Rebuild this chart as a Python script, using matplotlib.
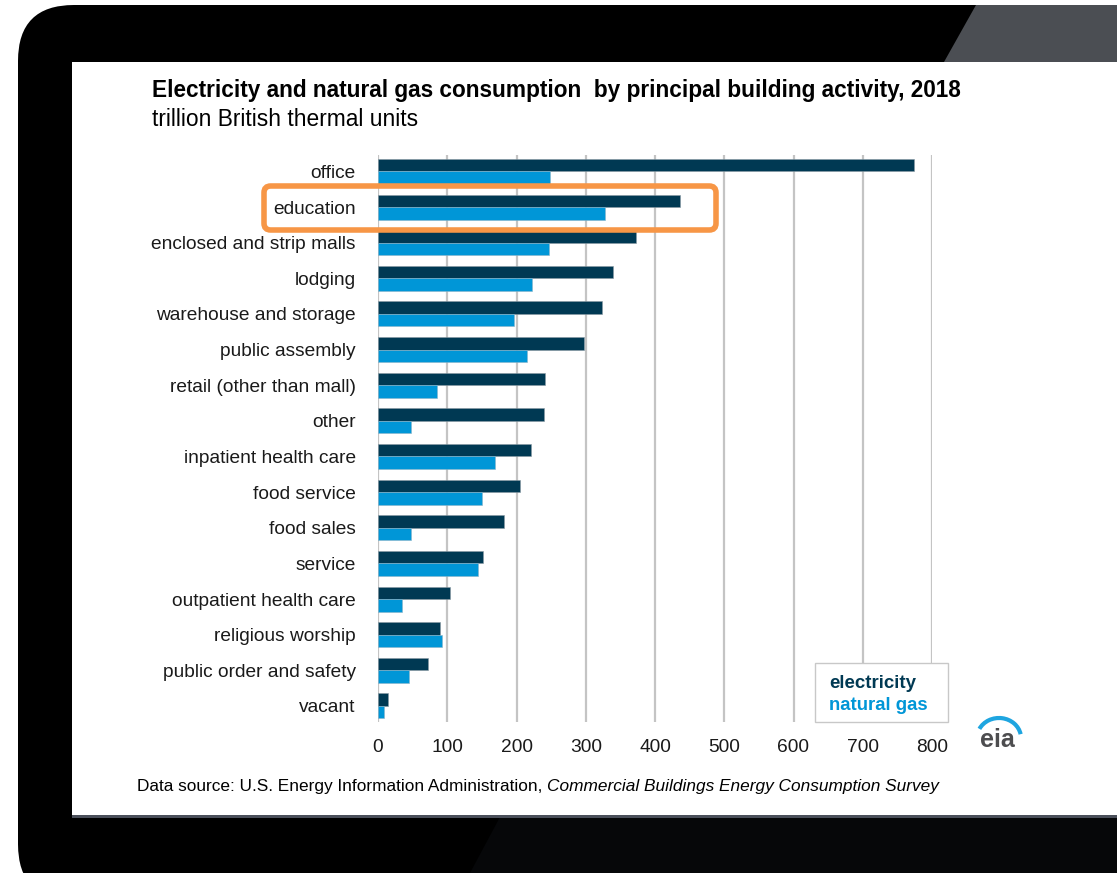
import numpy as np
import matplotlib
matplotlib.use("Agg")
import matplotlib.pyplot as plt
from matplotlib.patches import FancyBboxPatch, Polygon, Rectangle, Arc

plt.rcParams['font.family'] = ['Liberation Sans', 'DejaVu Sans']

## values (trillion Btu)
categories = ["office", "education", "enclosed and strip malls", "lodging",
              "warehouse and storage", "public assembly", "retail (other than mall)",
              "other", "inpatient health care", "food service", "food sales",
              "service", "outpatient health care", "religious worship",
              "public order and safety", "vacant"]
electricity = [774, 436, 372, 340, 323, 297, 241, 239, 221, 205, 182, 151, 104, 89, 72, 15]
natural_gas = [249, 328, 247, 223, 197, 215, 85, 47, 169, 150, 47, 145, 35, 93, 45, 8]
x_ticks = [0, 100, 200, 300, 400, 500, 600, 700, 800]

elec_color = "#003953"
gas_color = "#0096d7"

W, H = 1117, 873
fig = plt.figure(figsize=(W / 100, H / 100), dpi=100)
fig.patch.set_facecolor("white")

def fx(px):
    return px / W

def fy(py):
    return 1 - py / H

# laptop frame
bezel = FancyBboxPatch((fx(18), fy(900)), fx(1200), fy(5) - fy(900),
                       boxstyle="round,pad=0,rounding_size=0.05",
                       transform=fig.transFigure, facecolor="black",
                       edgecolor="none", mutation_aspect=W / H, zorder=0)
fig.patches.append(bezel)
glare = Polygon([(fx(976), fy(5)), (fx(1117), fy(5)), (fx(1117), fy(62)), (fx(944), fy(62))],
                closed=True, transform=fig.transFigure, facecolor="#4b4e53",
                edgecolor="none", zorder=0.5)
fig.patches.append(glare)
low_glare = Polygon([(fx(500), fy(817)), (fx(1117), fy(817)), (fx(1117), fy(873)), (fx(470), fy(873))],
                    closed=True, transform=fig.transFigure, facecolor="#060709",
                    edgecolor="none", zorder=0.5)
fig.patches.append(low_glare)
screen = Rectangle((fx(72), fy(815)), fx(1117 - 72), fy(62) - fy(815),
                   transform=fig.transFigure, facecolor="white",
                   edgecolor="none", zorder=1)
fig.patches.append(screen)
shadow = Rectangle((fx(72), fy(818)), fx(1117 - 72), fy(815) - fy(818),
                   transform=fig.transFigure, facecolor="#4a4f5a",
                   edgecolor="none", zorder=1)
fig.patches.append(shadow)

# chart
ax = fig.add_axes([fx(378), fy(722), fx(932 - 378), fy(155) - fy(722)], zorder=2)
ax.set_facecolor("none")
y = np.arange(len(categories))
bar_h = 0.35
ax.barh(y - bar_h / 2, electricity, height=bar_h, color=elec_color,
        edgecolor="#8a9aa4", linewidth=0.4, zorder=3)
ax.barh(y + bar_h / 2, natural_gas, height=bar_h, color=gas_color,
        edgecolor="#8ab4c8", linewidth=0.4, zorder=3)

ax.set_xlim(0, 800)
ax.set_ylim(len(categories) - 0.55, -0.46)
ax.set_xticks(x_ticks)
ax.set_yticks(y)
ax.set_yticklabels(categories, fontsize=13.8, color="#1a1a1a")
ax.set_xticklabels([str(t) for t in x_ticks], fontsize=13.8, color="#1a1a1a")
ax.tick_params(axis="y", length=0, pad=16)
ax.tick_params(axis="x", length=0, pad=12)
ax.grid(axis="x", color="#c4c4c4", linewidth=1.6, zorder=0)
ax.set_axisbelow(True)
for s in ax.spines.values():
    s.set_visible(False)

# titles
fig.text(fx(152), fy(91), "Electricity and natural gas consumption  by principal building activity, 2018",
         fontsize=16.3, fontweight="bold", color="black", va="center", ha="left", zorder=3)
fig.text(fx(152), fy(119), "trillion British thermal units",
         fontsize=16.4, color="black", va="center", ha="left", zorder=3)

# source
t1 = fig.text(fx(137), fy(786), "Data source: U.S. Energy Information Administration, ",
              fontsize=12.4, color="black", va="center", ha="left", zorder=3)
fig.canvas.draw()
bb = t1.get_window_extent()
fig.text(bb.x1 / W, fy(786), "Commercial Buildings Energy Consumption Survey",
         fontsize=12.4, style="italic", color="black", va="center", ha="left", zorder=3)

# legend box
leg = Rectangle((fx(815), fy(722)), fx(948 - 815), fy(663) - fy(722),
                transform=fig.transFigure, facecolor="white",
                edgecolor="#c8c8c8", linewidth=1.0, zorder=4)
fig.patches.append(leg)
fig.text(fx(829), fy(683), "electricity", fontsize=13.4, fontweight="bold",
         color=elec_color, va="center", ha="left", zorder=5)
fig.text(fx(829), fy(706), "natural gas", fontsize=13.4, fontweight="bold",
         color=gas_color, va="center", ha="left", zorder=5)

# highlight around education
hl = FancyBboxPatch((fx(264), fy(230)), fx(716 - 264), fy(186) - fy(230),
                    boxstyle="round,pad=0,rounding_size=0.006",
                    transform=fig.transFigure, facecolor="none",
                    edgecolor="#f79646", linewidth=4, mutation_aspect=W / H, zorder=6)
fig.patches.append(hl)

# eia logo
fig.text(fx(997), fy(740), "eia", fontsize=18, fontweight="bold", color="#4d4d4f",
         va="center", ha="center", zorder=5)
logo_ax = fig.add_axes([fx(970), fy(752), fx(60), fy(712) - fy(752)], zorder=5)
logo_ax.set_xlim(0, 60)
logo_ax.set_ylim(0, 40)
logo_ax.axis("off")
logo_ax.add_patch(Arc((29, 14), 44, 40, theta1=10, theta2=155, color="#1ea5e0", linewidth=3))

fig.savefig("out.png", dpi=100)
